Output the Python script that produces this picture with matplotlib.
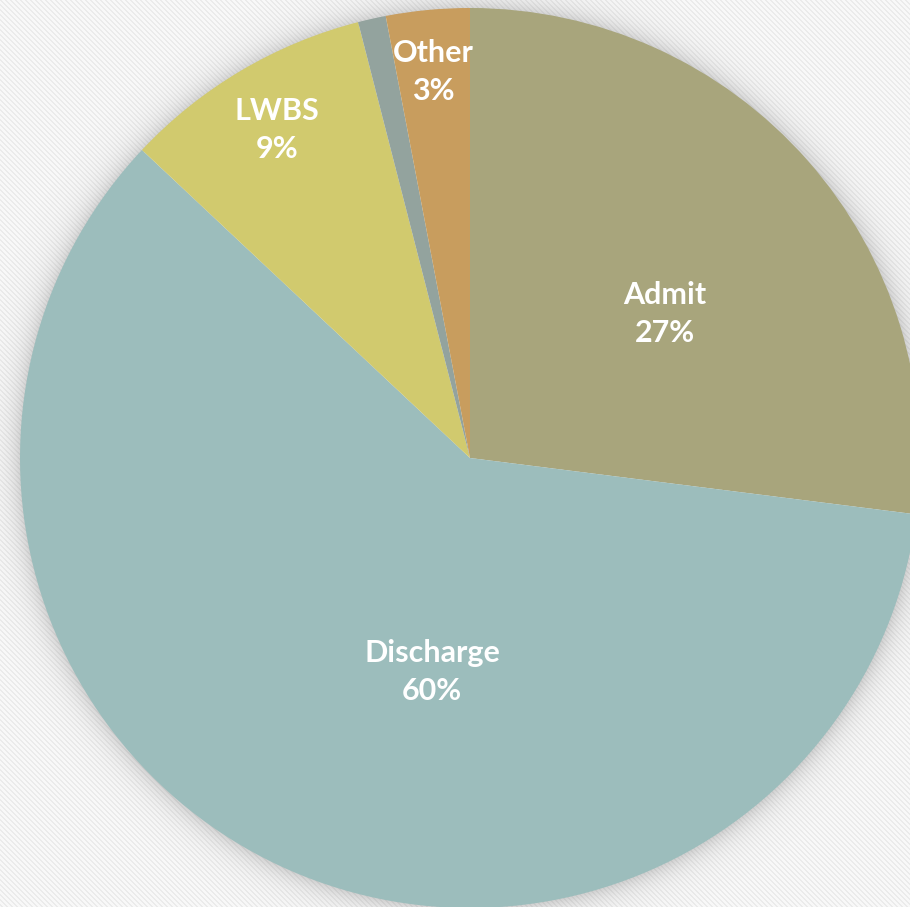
import numpy as np
import matplotlib
matplotlib.use("Agg")
import matplotlib.pyplot as plt

# Disposition shares (percent), clockwise from 12 o'clock
categories = ["Admit", "Discharge", "LWBS", "", "Other"]
shares = [27, 60, 9, 1, 3]
colors = ["#A8A57C", "#9CBDBC", "#D1CA6E", "#93A39E", "#C89D5E"]

W, H = 910, 907
fig = plt.figure(figsize=(W / 100, H / 100), dpi=100)
ax = fig.add_axes([0, 0, 1, 1])

# Diagonal striped backdrop
yy, xx = np.mgrid[0:H, 0:W]
stripe = ((xx - yy) % 5) < 2
bg = np.where(stripe, 0.925, 0.975)
bg = np.dstack([bg, bg, bg])
ax.imshow(bg, extent=(0, W, 0, H), origin="upper", zorder=0, interpolation="nearest")

cx, cy, R = 470, H - 458, 450

# Soft shadow around the pie
d = np.hypot(xx - cx, (H - yy) - cy)
alpha = np.where(d > R - 2, 0.24 * np.exp(-np.clip(d - R, 0, None) / 12.0), 0.0)
shadow = np.zeros((H, W, 4))
shadow[..., :3] = 0.35
shadow[..., 3] = alpha
ax.imshow(shadow, extent=(0, W, 0, H), origin="upper", zorder=1, interpolation="bilinear")

wedges, _ = ax.pie(shares, colors=colors, startangle=90, counterclock=False,
                   radius=R, center=(cx, cy), frame=True,
                   wedgeprops=dict(linewidth=0, zorder=2))
for w in wedges:
    w.set_zorder(2)

# Data labels (name + percent) inside the slices
label_xy = {"Admit": (665, 314), "Discharge": (432, 672), "LWBS": (277, 130), "Other": (433, 72)}
for name, val in zip(categories, shares):
    if not name:
        continue
    x, y = label_xy[name]
    ax.text(x, H - y, f"{name}\n{val}%", ha="center", va="center", color="white",
            fontsize=22, fontweight="bold", family="Lato", linespacing=1.4, zorder=3)

ax.set_xlim(0, W)
ax.set_ylim(0, H)
ax.set_aspect("equal")
ax.axis("off")
fig.savefig("out.png", dpi=100)
